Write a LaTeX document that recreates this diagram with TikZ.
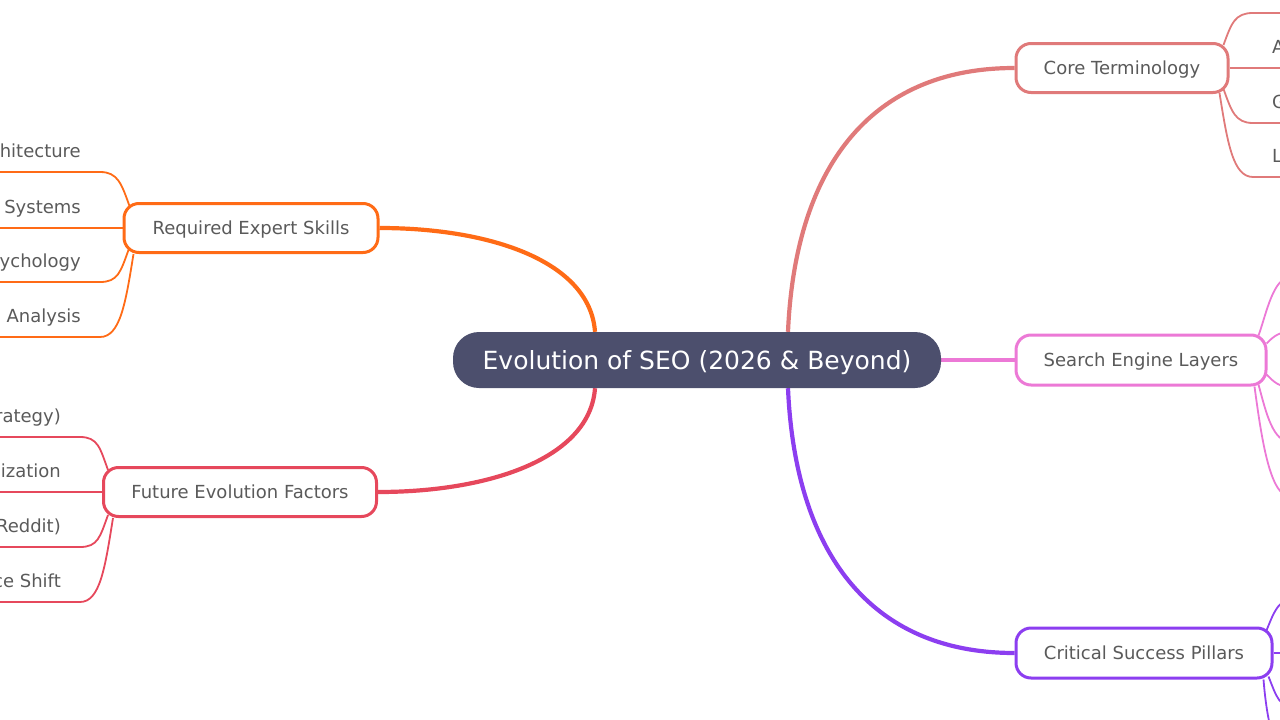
\documentclass[tikz,border=0pt]{standalone}
\usepackage{fontspec}
\setmainfont{DejaVu Sans}
\usetikzlibrary{positioning}

\definecolor{rootfill}{HTML}{4C4F6D}
\definecolor{labelgray}{HTML}{5A5A5A}
\definecolor{coreclr}{HTML}{E07A7A}
\definecolor{layerclr}{HTML}{EC79D6}
\definecolor{pillarclr}{HTML}{8C3EF0}
\definecolor{skillclr}{HTML}{FF6B16}
\definecolor{factorclr}{HTML}{E6485C}

\pgfdeclarelayer{back}
\pgfsetlayers{back,main}

\begin{document}
\begin{tikzpicture}[x=1pt, y=-1pt,
  every node/.style={font=\fontsize{18}{22}\selectfont, text=labelgray},
  topic/.style={draw, line width=3pt, fill=white, rounded corners=15pt, minimum height=49pt, inner xsep=0pt, text height=14pt, text depth=1pt},
  leaf/.style={inner xsep=19pt, inner ysep=10.5pt, text height=13pt, text depth=4pt},
  trunk/.style={line width=4.2pt},
  twig/.style={line width=1.8pt}]

  \clip (0,0) rectangle (1280,720);

  % Central topic
  \node (seo) [fill=rootfill, text=white, rounded corners=26pt, minimum width=488pt, minimum height=56pt, text height=19pt, text depth=0pt, font=\fontsize{25}{30}\selectfont] at (697,360) {Evolution of SEO (2026 \& Beyond)};

  % Right topics
  \node (core) [topic, draw=coreclr, minimum width=212pt] at (1122,68) {Core Terminology};
  \node (layers) [topic, draw=layerclr, minimum width=250pt, minimum height=50pt] at (1141,360) {Search Engine Layers};
  \node (pillars) [topic, draw=pillarclr, minimum width=256pt, minimum height=50pt] at (1144,653) {Critical Success Pillars};

  % Left topics
  \node (skills) [topic, draw=skillclr, minimum width=254pt] at (251,228) {Required Expert Skills};
  \node (factors) [topic, draw=factorclr, minimum width=273pt] at (240,492) {Future Evolution Factors};

  % Leaves of Required Expert Skills
  \node (arch) [leaf, anchor=south east] at (100,172) {hitecture};
  \node (systems) [leaf, anchor=south east] at (100,228) {Systems};
  \node (psych) [leaf, anchor=south east] at (100,282) {ychology};
  \node (analysis) [leaf, anchor=south east] at (100,337) {a Analysis};

  % Leaves of Future Evolution Factors
  \node (strategy) [leaf, anchor=south east] at (80,437) {rategy)};
  \node (optim) [leaf, anchor=south east] at (80,492) {ization};
  \node (reddit) [leaf, anchor=south east] at (80,547) {(Reddit)};
  \node (shift) [leaf, anchor=south east] at (80,602) {ce Shift};

  % Leaves of Core Terminology
  \coordinate (termtop) at (1253,13);
  \coordinate (termtopend) at (1300,13);
  \node (termA) [leaf, anchor=south west] at (1253,68) {A};
  \node (termG) [leaf, anchor=south west] at (1253,123) {G};
  \node (termL) [leaf, anchor=south west] at (1253,177) {L};

  % Off-page ends of the other leaves
  \coordinate (lay1) at (1291,277);
  \coordinate (lay2) at (1291,332);
  \coordinate (lay3) at (1291,387);
  \coordinate (lay4) at (1291,442);
  \coordinate (lay5) at (1291,497);
  \coordinate (pil1) at (1297,598);
  \coordinate (pil2) at (1297,653);
  \coordinate (pil3) at (1297,708);
  \coordinate (pil4) at (1297,763);

  \begin{pgfonlayer}{back}
    % Main branches
    \draw[trunk, coreclr] ([xshift=91pt]seo.north) .. controls +(7,-162) and +(-146,0) .. (core.west);
    \draw[trunk, layerclr] (seo.east) -- (layers.west);
    \draw[trunk, pillarclr] ([xshift=91pt]seo.south) .. controls +(7,162) and +(-146,0) .. (pillars.west);
    \draw[trunk, skillclr] ([xshift=-102pt]seo.north) .. controls +(-5,-70) and +(112,0) .. (skills.east);
    \draw[trunk, factorclr] ([xshift=-102pt]seo.south) .. controls +(-5,70) and +(112,0) .. (factors.east);

    % Skills twigs
    \draw[twig, skillclr] ([shift={(7,4)}]skills.north west) .. controls +(-8,-22) and +(18,0) .. (arch.south east) -- (arch.south west);
    \draw[twig, skillclr] (skills.west) -- (systems.south east) -- (systems.south west);
    \draw[twig, skillclr] ([shift={(6,-4)}]skills.south west) .. controls +(-8,22) and +(18,0) .. (psych.south east) -- (psych.south west);
    \draw[twig, skillclr] ([shift={(11,0)}]skills.south west) .. controls +(-8,50) and +(20,0) .. (analysis.south east) -- (analysis.south west);

    % Factors twigs
    \draw[twig, factorclr] ([shift={(6,4)}]factors.north west) .. controls +(-8,-22) and +(18,0) .. (strategy.south east) -- (strategy.south west);
    \draw[twig, factorclr] (factors.west) -- (optim.south east) -- (optim.south west);
    \draw[twig, factorclr] ([shift={(6,-3)}]factors.south west) .. controls +(-8,22) and +(18,0) .. (reddit.south east) -- (reddit.south west);
    \draw[twig, factorclr] ([shift={(11,0)}]factors.south west) .. controls +(-8,50) and +(20,0) .. (shift.south east) -- (shift.south west);

    % Core twigs
    \draw[twig, coreclr] ([shift={(-6,3)}]core.north east) .. controls +(8,-22) and +(-18,0) .. (termtop) -- (termtopend);
    \draw[twig, coreclr] (core.east) -- (termA.south west) -- (termA.south east);
    \draw[twig, coreclr] ([shift={(-6,-5)}]core.south east) .. controls +(8,22) and +(-18,0) .. (termG.south west) -- (termG.south east);
    \draw[twig, coreclr] ([shift={(-10,-1)}]core.south east) .. controls +(8,50) and +(-20,0) .. (termL.south west) -- (termL.south east);

    % Layers twigs
    \draw[twig, layerclr] ([shift={(-9,2)}]layers.north east) .. controls +(8,-22) and +(-18,0) .. (lay1);
    \draw[twig, layerclr] ([shift={(-1,10)}]layers.north east) .. controls +(8,-8) and +(-12,0) .. (lay2);
    \draw[twig, layerclr] ([shift={(-1,-12)}]layers.south east) .. controls +(8,8) and +(-12,0) .. (lay3);
    \draw[twig, layerclr] ([shift={(-9,-2)}]layers.south east) .. controls +(8,30) and +(-18,0) .. (lay4);
    \draw[twig, layerclr] ([shift={(-13,0)}]layers.south east) .. controls +(8,60) and +(-20,0) .. (lay5);

    % Pillars twigs
    \draw[twig, pillarclr] ([shift={(-7,4)}]pillars.north east) .. controls +(8,-20) and +(-18,0) .. (pil1);
    \draw[twig, pillarclr] (pillars.east) -- (pil2);
    \draw[twig, pillarclr] ([shift={(-5,-3)}]pillars.south east) .. controls +(8,20) and +(-18,0) .. (pil3);
    \draw[twig, pillarclr] ([shift={(-10,0)}]pillars.south east) .. controls +(4,50) and +(-20,0) .. (pil4);
  \end{pgfonlayer}
\end{tikzpicture}
\end{document}
